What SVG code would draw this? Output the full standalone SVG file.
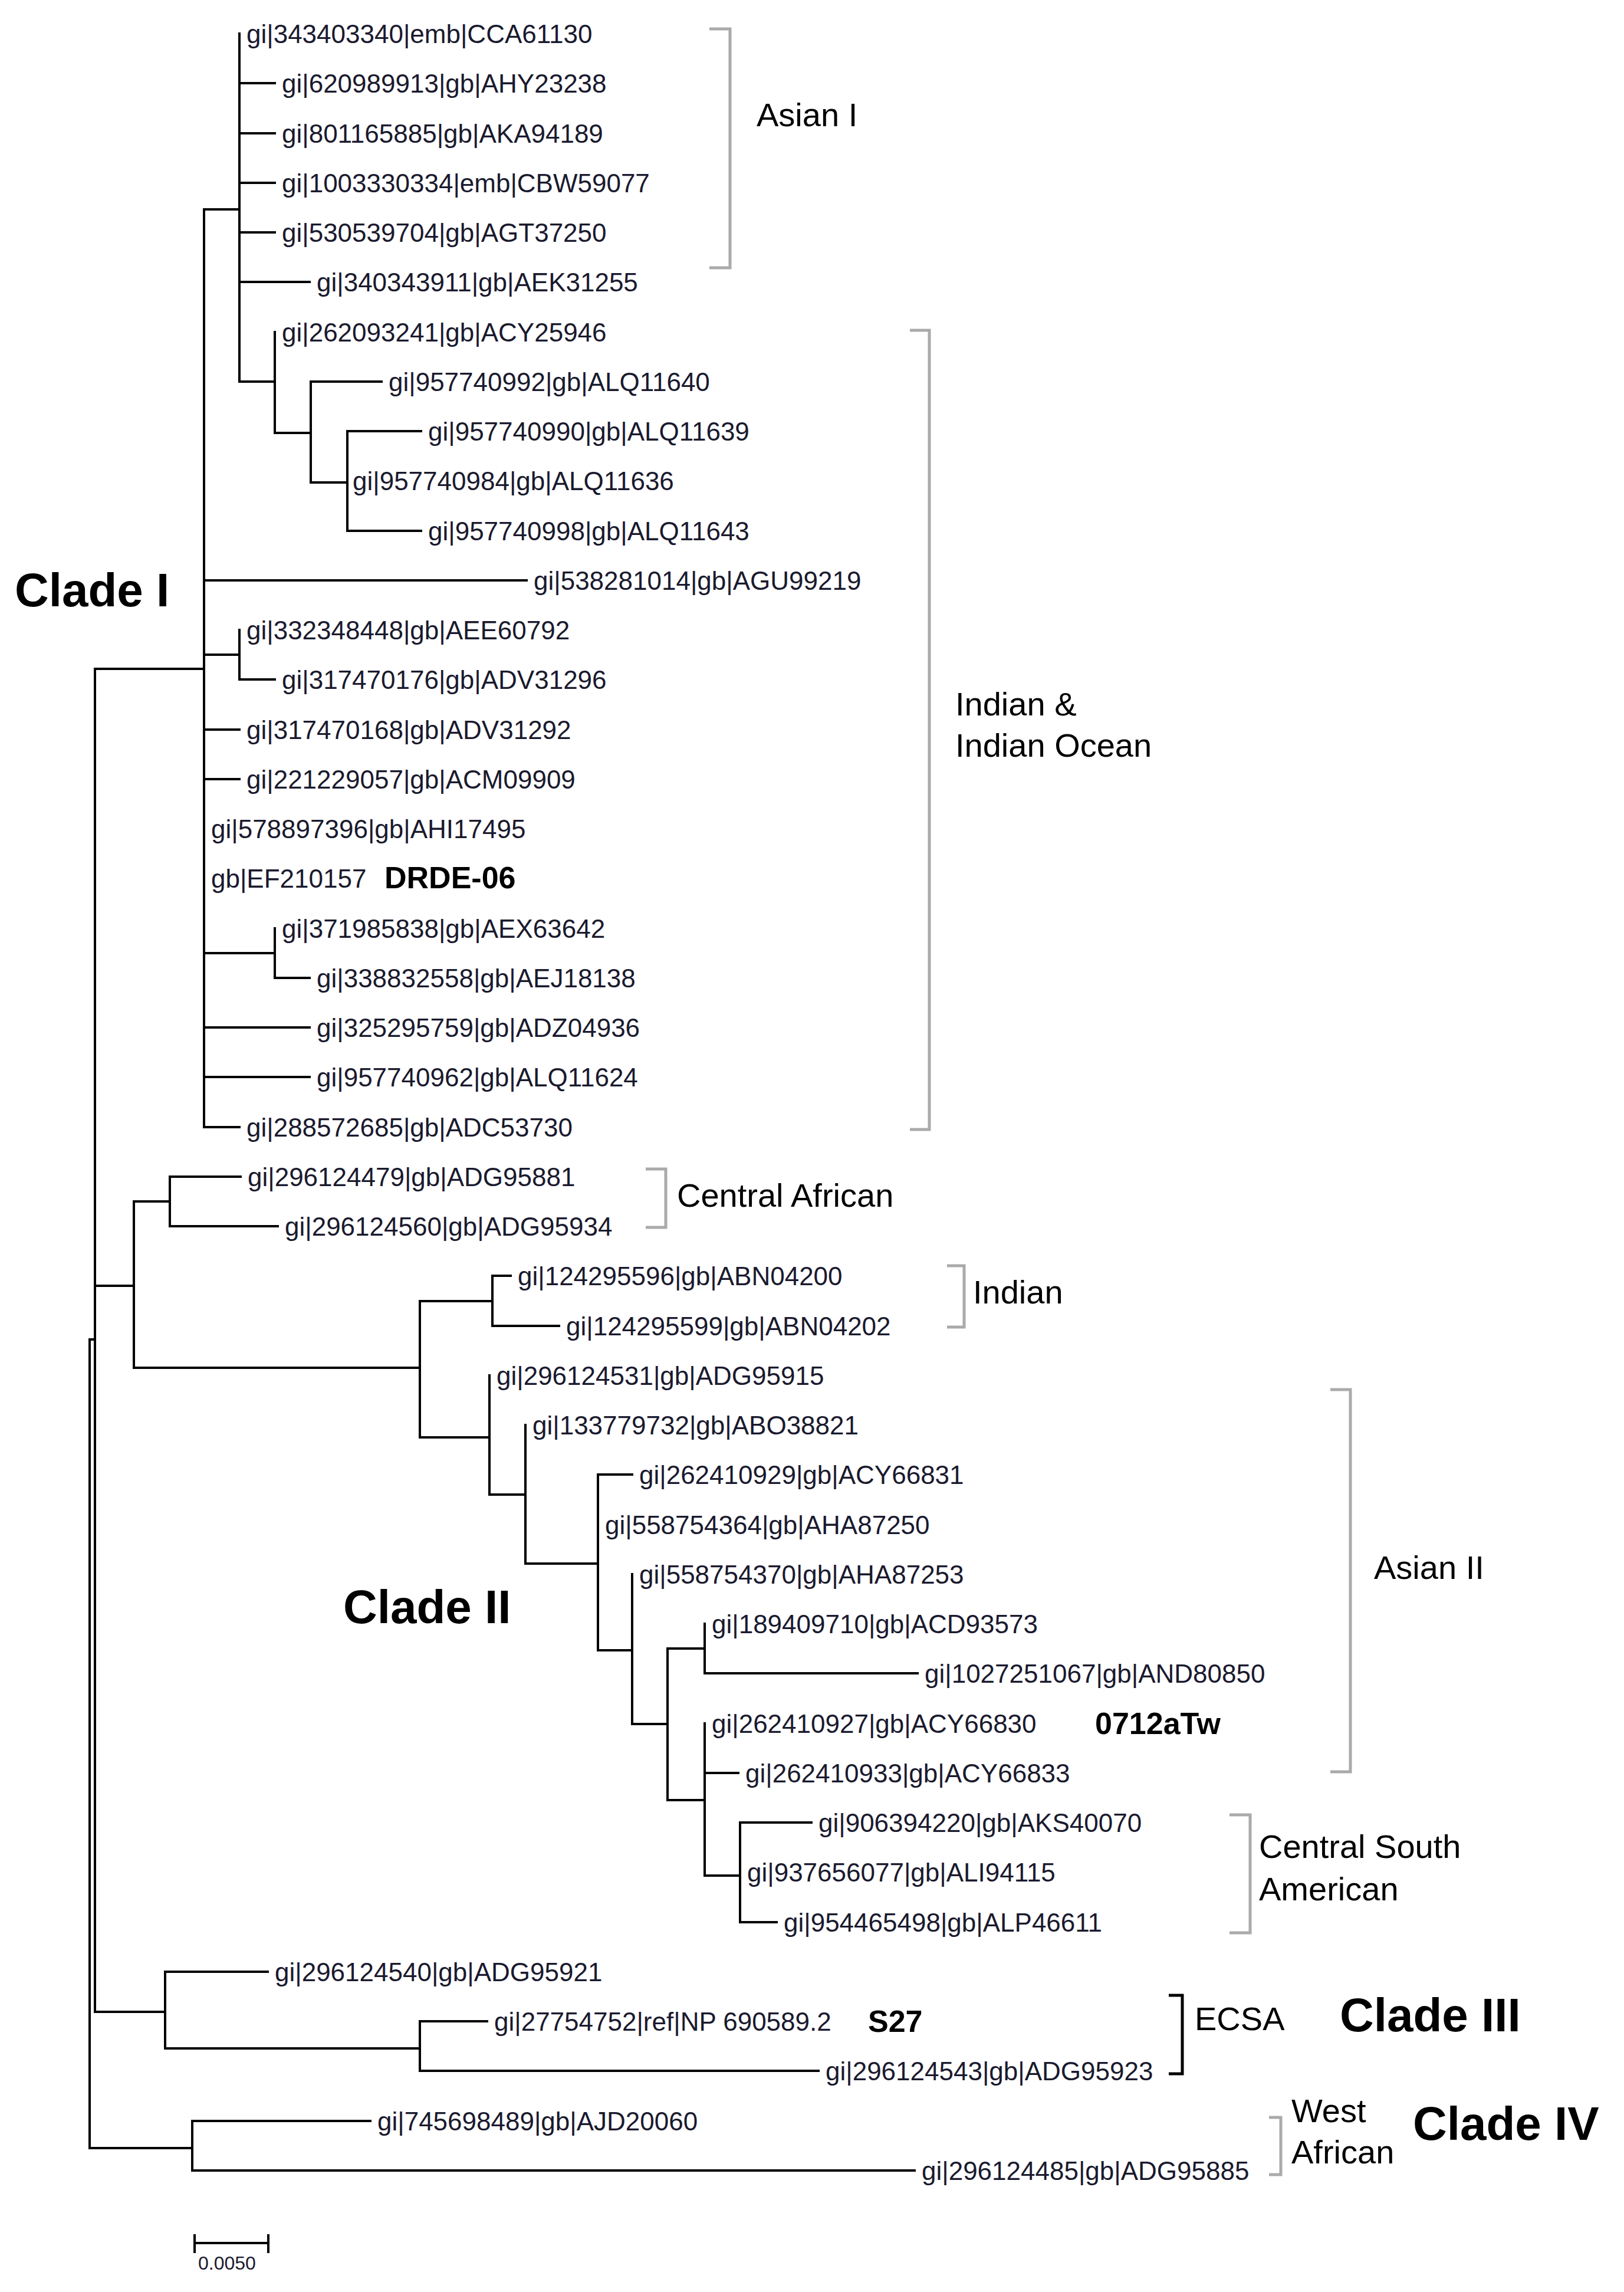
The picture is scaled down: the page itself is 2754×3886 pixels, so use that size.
<svg xmlns="http://www.w3.org/2000/svg" width="2754" height="3886" viewBox="0 0 2754 3886">
<style>
.l{font-family:"Liberation Sans",Arial,sans-serif;font-size:44px;fill:#1a1a2e}
.g{font-family:"Liberation Sans",Arial,sans-serif;font-size:56px;fill:#000}
.b{font-family:"Liberation Sans",Arial,sans-serif;font-weight:bold;font-size:52px;fill:#000}
.c{font-family:"Liberation Sans",Arial,sans-serif;font-weight:bold;font-size:80px;fill:#000}
.e{fill:none;stroke:#000;stroke-width:4;stroke-linecap:square}
.k{fill:none;stroke:#aaa;stroke-width:5}
.kb{fill:none;stroke:#000;stroke-width:5}
</style>
<rect width="2754" height="3886" fill="#fff"/>
<g id="connectors" class="e">
<path d="M161 1134V3411M152 2271V3642M152 2271H161M346 355V1911M161 1134H346M406 57V647M346 355H406M466 563V734M406 647H466M527 647V818M466 734H527M589 731V900M527 818H589M406 1068V1152M346 1110H406M466 1574V1658M346 1616H466M227 2037V2319M161 2180H227M288 1995V2079M227 2037H288M712 2206V2437M227 2319H712M835 2163V2248M712 2206H835M830 2332V2534M712 2437H830M891 2416V2651M830 2534H891M1014 2500V2798M891 2651H1014M1072 2669V2923M1014 2798H1072M1132 2795V3052M1072 2923H1132M1195 2753V2837M1132 2795H1195M1195 2922V3180M1132 3052H1195M1255 3090V3259M1195 3180H1255M280 3343V3473M161 3411H280M712 3427V3511M280 3473H712M326 3596V3680M152 3642H326"/>
<path d="M406 141H466M406 226H466M406 310H466M406 394H466M406 478H525M527 647H647M589 731H714M589 900H714M346 984H893M406 1152H466M346 1237H406M346 1321H406M466 1658H525M346 1742H525M346 1826H525M346 1911H406M288 1995H408M288 2079H471M835 2163H866M835 2248H948M1014 2500H1072M1195 2837H1556M1195 3006H1252M1255 3090H1376M1255 3259H1317M280 3343H454M712 3427H826M712 3511H1388M326 3596H628M326 3680H1551"/>
</g>
<g id="leaves">
<text class="l" x="418" y="73">gi|343403340|emb|CCA61130</text>
<text class="l" x="478" y="157">gi|620989913|gb|AHY23238</text>
<text class="l" x="478" y="242">gi|801165885|gb|AKA94189</text>
<text class="l" x="478" y="326">gi|1003330334|emb|CBW59077</text>
<text class="l" x="478" y="410">gi|530539704|gb|AGT37250</text>
<text class="l" x="537" y="494">gi|340343911|gb|AEK31255</text>
<text class="l" x="478" y="579">gi|262093241|gb|ACY25946</text>
<text class="l" x="659" y="663">gi|957740992|gb|ALQ11640</text>
<text class="l" x="726" y="747">gi|957740990|gb|ALQ11639</text>
<text class="l" x="598" y="831">gi|957740984|gb|ALQ11636</text>
<text class="l" x="726" y="916">gi|957740998|gb|ALQ11643</text>
<text class="l" x="905" y="1000">gi|538281014|gb|AGU99219</text>
<text class="l" x="418" y="1084">gi|332348448|gb|AEE60792</text>
<text class="l" x="478" y="1168">gi|317470176|gb|ADV31296</text>
<text class="l" x="418" y="1253">gi|317470168|gb|ADV31292</text>
<text class="l" x="418" y="1337">gi|221229057|gb|ACM09909</text>
<text class="l" x="358" y="1421">gi|578897396|gb|AHI17495</text>
<text class="l" x="358" y="1505">gb|EF210157</text>
<text class="b" x="652" y="1506">DRDE-06</text>
<text class="l" x="478" y="1590">gi|371985838|gb|AEX63642</text>
<text class="l" x="537" y="1674">gi|338832558|gb|AEJ18138</text>
<text class="l" x="537" y="1758">gi|325295759|gb|ADZ04936</text>
<text class="l" x="537" y="1842">gi|957740962|gb|ALQ11624</text>
<text class="l" x="418" y="1927">gi|288572685|gb|ADC53730</text>
<text class="l" x="420" y="2011">gi|296124479|gb|ADG95881</text>
<text class="l" x="483" y="2095">gi|296124560|gb|ADG95934</text>
<text class="l" x="878" y="2179">gi|124295596|gb|ABN04200</text>
<text class="l" x="960" y="2264">gi|124295599|gb|ABN04202</text>
<text class="l" x="842" y="2348">gi|296124531|gb|ADG95915</text>
<text class="l" x="903" y="2432">gi|133779732|gb|ABO38821</text>
<text class="l" x="1084" y="2516">gi|262410929|gb|ACY66831</text>
<text class="l" x="1026" y="2601">gi|558754364|gb|AHA87250</text>
<text class="l" x="1084" y="2685">gi|558754370|gb|AHA87253</text>
<text class="l" x="1207" y="2769">gi|189409710|gb|ACD93573</text>
<text class="l" x="1568" y="2853">gi|1027251067|gb|AND80850</text>
<text class="l" x="1207" y="2938">gi|262410927|gb|ACY66830</text>
<text class="b" x="1857" y="2940">0712aTw</text>
<text class="l" x="1264" y="3022">gi|262410933|gb|ACY66833</text>
<text class="l" x="1388" y="3106">gi|906394220|gb|AKS40070</text>
<text class="l" x="1267" y="3190">gi|937656077|gb|ALI94115</text>
<text class="l" x="1329" y="3275">gi|954465498|gb|ALP46611</text>
<text class="l" x="466" y="3359">gi|296124540|gb|ADG95921</text>
<text class="l" x="838" y="3443">gi|27754752|ref|NP 690589.2</text>
<text class="b" x="1472" y="3445">S27</text>
<text class="l" x="1400" y="3527">gi|296124543|gb|ADG95923</text>
<text class="l" x="640" y="3612">gi|745698489|gb|AJD20060</text>
<text class="l" x="1563" y="3696">gi|296124485|gb|ADG95885</text>
</g>
<g id="groups">
<path class="k" d="M1203 49H1238V454H1203"/>
<text class="g" x="1283" y="214">Asian I</text>
<path class="k" d="M1543 560H1576V1915H1543"/>
<text class="g" x="1620" y="1213">Indian &amp;</text>
<text class="g" x="1620" y="1283">Indian Ocean</text>
<path class="k" d="M1095 1982H1129V2081H1095"/>
<text class="g" x="1148" y="2046">Central African</text>
<path class="k" d="M1606 2146H1635V2250H1606"/>
<text class="g" x="1650" y="2210">Indian</text>
<path class="k" d="M2256 2356H2290V3004H2256"/>
<text class="g" x="2330" y="2677">Asian II</text>
<path class="k" d="M2085 3077H2120V3277H2085"/>
<text class="g" x="2135" y="3150">Central South</text>
<text class="g" x="2135" y="3222">American</text>
<path class="kb" d="M1982 3383H2005V3516H1982"/>
<text class="g" x="2026" y="3442">ECSA</text>
<path class="k" d="M2152 3590H2172V3687H2152"/>
<text class="g" x="2190" y="3598">West</text>
<text class="g" x="2190" y="3668">African</text>
</g>
<g id="clades">
<text class="c" x="25" y="1028">Clade I</text>
<text class="c" x="582" y="2752">Clade II</text>
<text class="c" x="2272" y="3444">Clade III</text>
<text class="c" x="2396" y="3628">Clade IV</text>
</g>
<g id="scale">
<path class="e" d="M330 3803H455M330 3790V3818M455 3790V3818"/>
<text class="l" style="font-size:32px" x="336" y="3848">0.0050</text>
</g>
</svg>
